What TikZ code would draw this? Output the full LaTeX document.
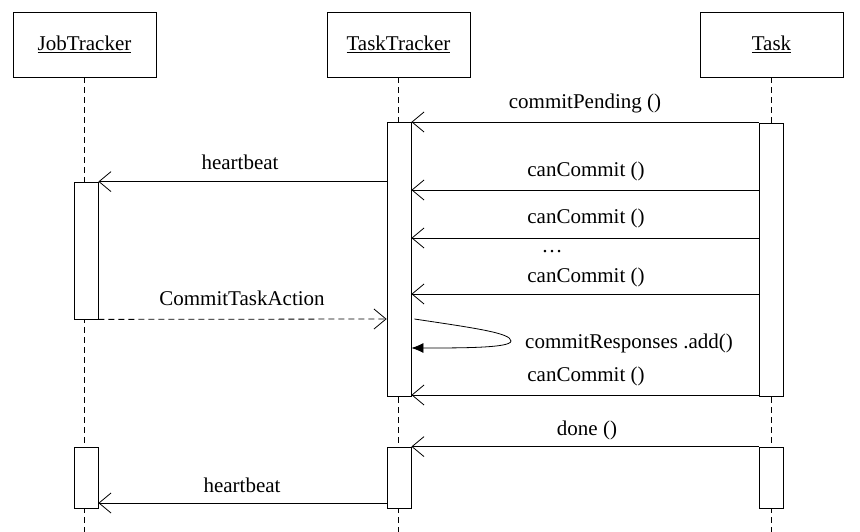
\documentclass[tikz,border=0pt]{standalone}
\usepackage{fontspec}
\setmainfont{Liberation Serif}
\usetikzlibrary{arrows.meta}
\begin{document}
\begin{tikzpicture}[x=1pt,y=-1pt,
  hdr/.style={draw, line width=0.8pt, minimum width=143pt, minimum height=65pt, inner sep=0pt, font=\fontsize{21}{25}\selectfont},
  act/.style={draw, line width=0.8pt, fill=white, minimum width=24pt, inner sep=0pt},
  life/.style={dash pattern=on 6pt off 4pt, line width=0.8pt},
  msg/.style={line width=0.8pt, -{Straight Barb[length=12pt,width=20pt,line width=0.8pt]}},
  rmsg/.style={msg, dash pattern=on 6pt off 4pt},
  lbl/.style={font=\fontsize{21}{25}\selectfont, inner sep=0pt}]
\useasboundingbox (0,0) rectangle (860,532);
% headers
\node[hdr] (jt) at (84.5,44.5) {\underline{JobTracker}};
\node[hdr] (tt) at (398.5,44.5) {\underline{TaskTracker}};
\node[hdr] (tk) at (771.5,44.5) {\underline{Task}};
% lifelines
\coordinate (bot) at (0,532);
\draw[life] (jt.south) -- (jt.south |- bot);
\draw[life] (tt.south) -- (tt.south |- bot);
\draw[life] (tk.south) -- (tk.south |- bot);
% activations
\node[act, minimum height=274pt] (ttA) at (399,259) {};
\node[act, minimum height=273pt] (tkA) at (771,259.5) {};
\node[act, minimum height=137pt] (jtA) at (86,250.5) {};
\node[act, minimum height=61pt] (jtB) at (86,477.5) {};
\node[act, minimum height=61pt] (ttB) at (399,477.5) {};
\node[act, minimum height=61pt] (tkB) at (771,477.5) {};
% y levels
\coordinate (y1) at (0,122);
\coordinate (y2) at (0,190);
\coordinate (y3) at (0,238);
\coordinate (y4) at (0,294);
\coordinate (y5) at (0,319);
\coordinate (y6) at (0,395);
\coordinate (y7) at (0,503);
\coordinate (y8) at (0,348);
% messages
\draw[msg] (tkA.west |- y1) -- (ttA.east |- y1);
\draw[msg] (ttA.west |- jtA.north) -- (jtA.north east);
\draw[msg] (tkA.west |- y2) -- (ttA.east |- y2);
\draw[msg] (tkA.west |- y3) -- (ttA.east |- y3);
\draw[msg] (tkA.west |- y4) -- (ttA.east |- y4);
\draw[rmsg] (jtA.south east) -- (ttA.west |- y5);
\draw[line width=0.8pt, -{Latex[length=12pt,width=10pt]}] ([xshift=3pt]ttA.east |- y5) .. controls +(60,9) and +(0,-8) .. (511,341) .. controls +(0,7) and +(50,0) .. (ttA.east |- y8);
\draw[msg] (tkA.west |- y6) -- (ttA.east |- y6);
\draw[msg] (tkB.north west) -- (ttB.north east);
\draw[msg] (ttB.west |- y7) -- (jtB.east |- y7);
% labels
\node[lbl] (l1) at (585,103) {commitPending ()};
\node[lbl] (l2) at (240,162) {heartbeat};
\node[lbl] (l3) at (586,171) {canCommit ()};
\node[lbl] (l4) at (586,218) {canCommit ()};
\node[lbl] (l5) at (552,252) {\dots};
\node[lbl] (l6) at (586,277) {canCommit ()};
\node[lbl] (l7) at (242,298) {CommitTaskAction};
\node[lbl, anchor=west] (l8) at (525,343) {commitResponses .add()};
\node[lbl] (l9) at (586,376) {canCommit ()};
\node[lbl] (l10) at (587,430) {done ()};
\node[lbl] (l11) at (242,485) {heartbeat};
\end{tikzpicture}
\end{document}
